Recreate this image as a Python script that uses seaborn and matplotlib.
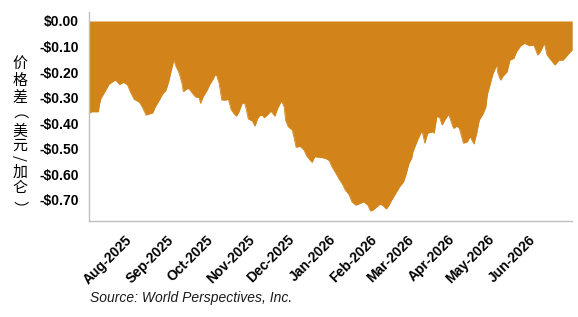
import pandas as pd
import numpy as np
import matplotlib
matplotlib.use("Agg")
import matplotlib.pyplot as plt
from matplotlib.textpath import TextPath
from matplotlib.font_manager import FontProperties
import seaborn as sns

# price spread, USD per gallon
dates = [
    "2025-07-01", "2025-07-03", "2025-07-08", "2025-07-09", "2025-07-10", "2025-07-13",
    "2025-07-16", "2025-07-18", "2025-07-21", "2025-07-24", "2025-07-27", "2025-07-30",
    "2025-08-01", "2025-08-04", "2025-08-08", "2025-08-10", "2025-08-13", "2025-08-15",
    "2025-08-18", "2025-08-20", "2025-08-23", "2025-08-25", "2025-08-28", "2025-08-30",
    "2025-09-01", "2025-09-03", "2025-09-04", "2025-09-07", "2025-09-09", "2025-09-10",
    "2025-09-12", "2025-09-14", "2025-09-17", "2025-09-19", "2025-09-22", "2025-09-23",
    "2025-09-25", "2025-09-28", "2025-09-30", "2025-10-02", "2025-10-04", "2025-10-05",
    "2025-10-07", "2025-10-09", "2025-10-12", "2025-10-14", "2025-10-16", "2025-10-18",
    "2025-10-20", "2025-10-22", "2025-10-24", "2025-10-26", "2025-10-27", "2025-10-29",
    "2025-11-01", "2025-11-03", "2025-11-05", "2025-11-07", "2025-11-09", "2025-11-10",
    "2025-11-13", "2025-11-15", "2025-11-18", "2025-11-20", "2025-11-22", "2025-11-23",
    "2025-11-25", "2025-11-26", "2025-11-28", "2025-12-01", "2025-12-02", "2025-12-04",
    "2025-12-07", "2025-12-10", "2025-12-12", "2025-12-16", "2025-12-18", "2025-12-22",
    "2025-12-26", "2025-12-29", "2025-12-31", "2026-01-03", "2026-01-05", "2026-01-08",
    "2026-01-10", "2026-01-13", "2026-01-15", "2026-01-18", "2026-01-20", "2026-01-24",
    "2026-01-27", "2026-01-29", "2026-01-31", "2026-02-03", "2026-02-05", "2026-02-07",
    "2026-02-10", "2026-02-12", "2026-02-14", "2026-02-17", "2026-02-20", "2026-02-23",
    "2026-02-25", "2026-02-27", "2026-03-01", "2026-03-02", "2026-03-04", "2026-03-06",
    "2026-03-08", "2026-03-09", "2026-03-11", "2026-03-13", "2026-03-17", "2026-03-18",
    "2026-03-20", "2026-03-22", "2026-03-24", "2026-03-26", "2026-03-29", "2026-04-01",
    "2026-04-02", "2026-04-04", "2026-04-06", "2026-04-09", "2026-04-12", "2026-04-14",
    "2026-04-17", "2026-04-19", "2026-04-21", "2026-04-24", "2026-04-26", "2026-04-27",
    "2026-04-29", "2026-05-01", "2026-05-04", "2026-05-05", "2026-05-07", "2026-05-09",
    "2026-05-12", "2026-05-14", "2026-05-17", "2026-05-19", "2026-05-22", "2026-05-25",
    "2026-05-29", "2026-06-01", "2026-06-04", "2026-06-06", "2026-06-09", "2026-06-11",
    "2026-06-14", "2026-06-17", "2026-06-20", "2026-06-23", "2026-06-25", "2026-06-28",
    "2026-06-30",
]
spread = [
    -0.361, -0.355, -0.355, -0.322, -0.302, -0.276,
    -0.248, -0.240, -0.231, -0.248, -0.240, -0.250,
    -0.276, -0.306, -0.318, -0.335, -0.368, -0.364,
    -0.359, -0.335, -0.309, -0.289, -0.270, -0.237,
    -0.192, -0.150, -0.172, -0.205, -0.244, -0.276,
    -0.268, -0.263, -0.283, -0.296, -0.300, -0.322,
    -0.296, -0.270, -0.248, -0.231, -0.211, -0.211,
    -0.244, -0.309, -0.309, -0.306, -0.346, -0.361,
    -0.372, -0.355, -0.325, -0.319, -0.335, -0.383,
    -0.391, -0.411, -0.381, -0.368, -0.371, -0.378,
    -0.364, -0.352, -0.372, -0.342, -0.322, -0.313,
    -0.335, -0.387, -0.413, -0.426, -0.446, -0.494,
    -0.490, -0.505, -0.528, -0.553, -0.531, -0.533,
    -0.537, -0.546, -0.570, -0.596, -0.615, -0.639,
    -0.661, -0.680, -0.707, -0.720, -0.716, -0.707,
    -0.720, -0.743, -0.739, -0.726, -0.716, -0.720,
    -0.735, -0.720, -0.700, -0.674, -0.648, -0.628,
    -0.596, -0.557, -0.537, -0.511, -0.485, -0.459,
    -0.437, -0.433, -0.478, -0.439, -0.433, -0.439,
    -0.374, -0.376, -0.407, -0.387, -0.365, -0.413,
    -0.420, -0.411, -0.420, -0.478, -0.472, -0.452,
    -0.481, -0.439, -0.387, -0.361, -0.335, -0.289,
    -0.250, -0.211, -0.172, -0.205, -0.231, -0.215,
    -0.198, -0.153, -0.146, -0.120, -0.098, -0.087,
    -0.097, -0.094, -0.133, -0.120, -0.087, -0.133,
    -0.153, -0.172, -0.153, -0.153, -0.142, -0.124,
    -0.113,
]
yticks = [0.0, -0.1, -0.2, -0.3, -0.4, -0.5, -0.6, -0.7]
ylabel = "价格差（美元/加仑）"
source = "Source: World Perspectives, Inc."

fill_color = "#D2841A"

df = pd.DataFrame({"date": pd.to_datetime(dates), "spread": spread})

sns.set_style("white")
plt.rcParams["font.family"] = ["Liberation Sans", "DejaVu Sans"]

W, H, DPI = 578, 317, 100
fig = plt.figure(figsize=(W / DPI, H / DPI), dpi=DPI)
ax = fig.add_axes([0.154, 0.303, 0.836, 0.659])

sns.lineplot(data=df, x="date", y="spread", ax=ax, color=fill_color, linewidth=0.6)
ax.fill_between(df["date"], df["spread"], 0, color=fill_color, linewidth=0)

ax.set_xlim(df["date"].iloc[0], df["date"].iloc[-1])
ax.set_ylim(-0.782, 0.035)
ax.set_yticks(yticks)
ax.set_yticklabels([f"-${abs(v):.2f}" if v < 0 else f"${v:.2f}" for v in yticks],
                   fontsize=10, fontweight="bold")

month_ticks = pd.date_range("2025-08-01", "2026-06-01", freq="MS")
ax.set_xticks(month_ticks)
ax.set_xticklabels([d.strftime("%b-%Y") for d in month_ticks])
for lab in ax.get_xticklabels():
    lab.set_rotation(45)
    lab.set_ha("right")
    lab.set_va("center")
    lab.set_rotation_mode("anchor")
    lab.set_fontsize(10)
    lab.set_fontweight("bold")

ax.set_xlabel("")
ax.set_ylabel("")
for s in ["top", "right"]:
    ax.spines[s].set_visible(False)
for s in ["left", "bottom"]:
    ax.spines[s].set_color("#BFBFBF")
    ax.spines[s].set_linewidth(1.0)
ax.tick_params(axis="both", direction="out", length=4, width=1, color="black",
               labelcolor="black")
ax.tick_params(axis="x", pad=8)
ax.tick_params(axis="y", pad=3)

# stacked vertical label: CJK upright, brackets/slash turned as in vertical text.
# each glyph's ink is centred on its slot (slot centres in pixels from the top)
slot_y = [62, 79, 96, 115, 130, 145, 158, 171, 186, 202]
cjk = FontProperties(family=["Noto Sans CJK SC"])
fs = 10.8
px = DPI / 72.0
for ch, yc in zip(ylabel, slot_y):
    ext = TextPath((0, 0), ch, size=fs, prop=cjk).get_extents()
    x0 = ext.x0 * px
    cx, cy = (ext.x0 + ext.x1) / 2 * px, (ext.y0 + ext.y1) / 2 * px
    tx, ty = 20.0, H - yc
    if ch in "（）/":
        # Agg adds the glyph's left bearing along screen x even when rotated
        rot, ax_x, ax_y = -90, tx - cy - x0, ty + cx - x0
    else:
        rot, ax_x, ax_y = 0, tx - cx, ty - cy
    fig.text(ax_x / W, ax_y / H, ch, ha="left", va="baseline", rotation=rot,
             rotation_mode="anchor", fontsize=fs, color="black",
             family=["Noto Sans CJK SC", "DejaVu Sans"])

fig.text(90 / W, 1 - 298 / H, source, ha="left", va="center",
         fontsize=10, style="italic", color="#1a1a1a")

fig.savefig("out.png", dpi=DPI)
